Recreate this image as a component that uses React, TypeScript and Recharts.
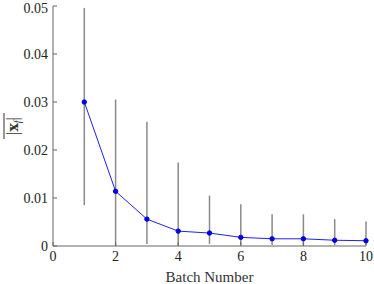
import React from 'react';
import { LineChart, Line, XAxis, YAxis, ErrorBar } from 'recharts';

// values
const batches = [1, 2, 3, 4, 5, 6, 7, 8, 9, 10];
const meanNorm = [0.0300, 0.0114, 0.0056, 0.0031, 0.0027, 0.0018, 0.0015, 0.0015, 0.0012, 0.0011];
const lowBound = [0.0085, 0.0, 0.0004, 0.0, 0.0004, 0.0002, 0.0002, 0.0002, 0.0002, 0.0002];
const highBound = [0.0496, 0.0305, 0.0259, 0.0174, 0.0105, 0.0087, 0.0066, 0.0066, 0.0056, 0.0051];
const xTicks = [0, 2, 4, 6, 8, 10];
const yTicks = [0, 0.01, 0.02, 0.03, 0.04, 0.05];

const data = batches.map((b, i) => ({
    batch: b,
    value: meanNorm[i],
    err: [meanNorm[i] - lowBound[i], highBound[i] - meanNorm[i]],
}));

const font = 'Liberation Serif, Times New Roman, serif';

const YLabel: React.FC<any> = () => (
    <g transform="translate(13,126) rotate(-90)">
        <text x={0} y={5} textAnchor="middle" fontFamily={font} fontSize={17} fill="#333">
            |<tspan fontFamily="DejaVu Serif" fontWeight="bold" fontSize={14}>x</tspan>
            <tspan fontStyle="italic" fontSize={10} dy={3}>f</tspan>
            <tspan dy={-3}>|</tspan>
        </text>
        <line x1={-13} x2={13} y1={-9} y2={-9} stroke="#333" strokeWidth={1} />
    </g>
);

const App: React.FC = () => {
    return (
        <div style={{ position: 'absolute', left: 0, top: 0, background: '#fff' }}>
            <LineChart width={374} height={284} data={data} margin={{ top: 6, right: 8, left: 0, bottom: 0 }}>
                <XAxis
                    dataKey="batch"
                    type="number"
                    domain={[0, 10]}
                    ticks={xTicks}
                    tickSize={-4}
                    tickMargin={9}
                    height={38}
                    stroke="#666"
                    tick={{ fill: '#222', fontFamily: font, fontSize: 14 }}
                    label={{ value: 'Batch Number', position: 'insideBottom', offset: 2, fill: '#333', fontFamily: font, fontSize: 15 }}
                />
                <YAxis
                    type="number"
                    domain={[0, 0.05]}
                    ticks={yTicks}
                    tickSize={-4}
                    tickMargin={9}
                    width={53}
                    stroke="#666"
                    tick={{ fill: '#222', fontFamily: font, fontSize: 14 }}
                    tickFormatter={(v: number) => (v === 0 ? '0' : v.toFixed(2))}
                    label={<YLabel />}
                />
                <Line
                    dataKey="value"
                    stroke="#1f1fff"
                    strokeWidth={1}
                    dot={{ r: 2.2, fill: '#0000e6', stroke: '#0000e6' }}
                    isAnimationActive={false}
                >
                    <ErrorBar dataKey="err" direction="y" width={0} stroke="#8a8a8a" strokeWidth={1.5} />
                </Line>
            </LineChart>
        </div>
    );
};

export default App;
